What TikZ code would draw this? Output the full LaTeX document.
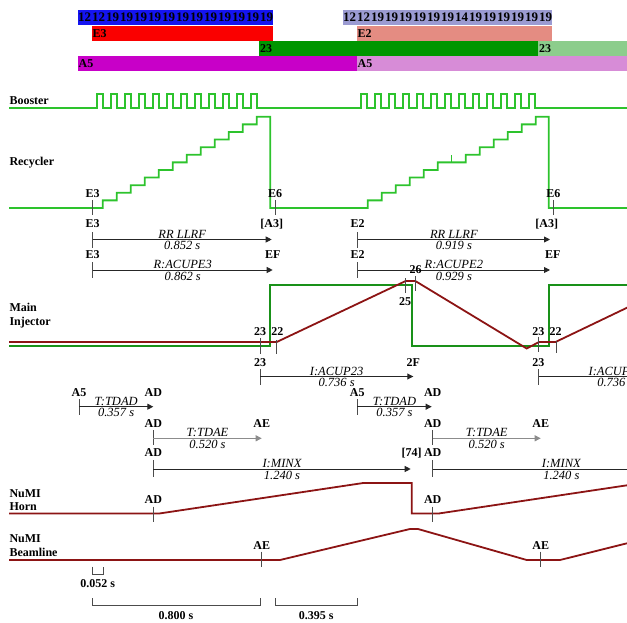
\documentclass[tikz,border=0pt]{standalone}
\usepackage{fontspec}
\setmainfont{Liberation Serif}
\usetikzlibrary{arrows.meta}
\definecolor{cBlue}{RGB}{20,20,240}
\definecolor{cBlueH}{RGB}{155,155,210}
\definecolor{cRed}{RGB}{250,0,0}
\definecolor{cRedH}{RGB}{228,140,130}
\definecolor{cGreen}{RGB}{0,150,0}
\definecolor{cGreenH}{RGB}{140,205,140}
\definecolor{cMag}{RGB}{200,0,200}
\definecolor{cMagH}{RGB}{215,140,215}
\definecolor{lgreen}{RGB}{45,195,45}
\definecolor{mgreen}{RGB}{25,145,25}
\definecolor{dred}{RGB}{140,20,20}
\newcommand\dfsz{\fontsize{12}{14}\selectfont}
\newcommand\ifsz{\fontsize{12.5}{14}\selectfont}
\newcommand\nfsz{\fontsize{13}{15}\selectfont}
\begin{document}
\begin{tikzpicture}[x=1pt,y=-1pt,font=\dfsz,
  bl/.style={font=\dfsz\bfseries, inner sep=0pt, anchor=base},
  blw/.style={font=\dfsz\bfseries, inner sep=0pt, anchor=base west},
  nbw/.style={font=\nfsz\bfseries, inner sep=0pt, anchor=base west},
  il/.style={font=\ifsz\itshape, inner sep=0pt},
  tk/.style={draw=black!70, line width=0.9pt},
  arr/.style={draw=black!85, line width=0.9pt, -{Triangle[length=6pt,width=6pt]}},
  garr/.style={draw=black!45, line width=1.2pt, -{Triangle[length=6pt,width=6pt]}},
  wv/.style={line width=1.8pt, line join=miter},
  brk/.style={draw=black!70, line width=0.9pt}]
\useasboundingbox (0,0) rectangle (627,623);
\clip (0,0) rectangle (627,623);

% ---------- top bars ----------
\fill[cBlue] (78,10) rectangle (273,25);
\fill[cBlueH] (343,10) rectangle (552,25);
\fill[cRed] (92,26) rectangle (273,41);
\fill[cRedH] (357,26) rectangle (552,41);
\fill[cGreen] (259,41) rectangle (538,56);
\fill[cGreenH] (538,41) rectangle (627,56);
\fill[cMag] (78,56) rectangle (357,71);
\fill[cMagH] (357,56) rectangle (627,71);
\node[nbw] (bt1) at (78,22) {\hbox to 195pt{12\hfill 12\hfill 19\hfill 19\hfill 19\hfill 19\hfill 19\hfill 19\hfill 19\hfill 19\hfill 19\hfill 19\hfill 19\hfill 19}};
\node[nbw] (bt2) at (343,22) {\hbox to 209pt{12\hfill 12\hfill 19\hfill 19\hfill 19\hfill 19\hfill 19\hfill 19\hfill 14\hfill 19\hfill 19\hfill 19\hfill 19\hfill 19\hfill 19}};
\node[blw] (bt3) at (92.5,37.5) {E3};
\node[blw] (bt4) at (357.5,37.5) {E2};
\node[blw] (bt5) at (260,52.5) {23};
\node[blw] (bt6) at (539,52.5) {23};
\node[blw] (bt7) at (78.5,67.5) {A5};
\node[blw] (bt8) at (357.5,67.5) {A5};

% ---------- row labels ----------
\node[blw] (lbooster) at (9.3,105) {Booster};
\node[blw] (lrecycler) at (9.3,166) {Recycler};
\node[blw] (lmain) at (9.3,311.5) {Main};
\node[blw] (linj) at (9.3,325) {Injector};
\node[blw] (lnumi1) at (9.3,497) {NuMI};
\node[blw] (lhorn) at (9.3,510.5) {Horn};
\node[blw] (lnumi2) at (9.3,542) {NuMI};
\node[blw] (lbeam) at (9.3,556.5) {Beamline};

% ---------- Booster ----------
\draw[wv, lgreen] (9,108)
  foreach \k in {0,...,11} { -- ({97+14*\k},108) -- ({97+14*\k},94) -- ({103+14*\k},94) -- ({103+14*\k},108) }
  foreach \k in {0,...,12} { -- ({361+14*\k},108) -- ({361+14*\k},94) -- ({367+14*\k},94) -- ({367+14*\k},108) }
  -- (627,108);

% ---------- Recycler ----------
\draw[wv, lgreen] (9,208)
  foreach \k in {0,...,11} { -- ({102.7+14*\k},{208-7.6*\k}) -- ({102.7+14*\k},{208-7.6*(\k+1)}) }
  -- (270.3,116.8) -- (270.3,208)
  foreach \k/\l in {0/1,1/2,2/3,3/4,4/5,5/6,7/7,8/8,9/9,10/10,11/11,12/12} { -- ({367.7+14*\k},{208-7.6*(\l-1)}) -- ({367.7+14*\k},{208-7.6*\l}) }
  -- (548.7,116.8) -- (548.7,208) -- (627,208);
\draw[line width=1.3pt, lgreen] (451.7,162.4) -- (451.7,154.7);

\draw[tk] (92.7,200) -- (92.7,215);
\draw[tk] (275,200) -- (275,215);
\draw[tk] (553.3,200) -- (553.3,215);
\node[bl] (re3) at (92.7,197.5) {E3};
\node[bl] (re6a) at (275,197.5) {E6};
\node[bl] (re6b) at (553.3,197.5) {E6};

% ---------- Recycler timers ----------
\coordinate (r1a) at (92.7,239.5); \coordinate (r1b) at (271.7,239.5);
\coordinate (r2a) at (92.7,270); \coordinate (r2b) at (272.7,270);
\coordinate (r3a) at (357.7,239.5); \coordinate (r3b) at (550,239.5);
\coordinate (r4a) at (357.7,270); \coordinate (r4b) at (550,270);
\draw[tk] (92.7,232) -- (92.7,248);
\draw[tk] (92.7,262) -- (92.7,277.5);
\draw[tk] (357.7,232) -- (357.7,248);
\draw[tk] (357.7,262) -- (357.7,277.5);
\draw[arr] (r1a) -- (r1b) node[il,midway,above=0.8pt] (r1t) {RR LLRF} node[il,midway,below=1.5pt] (r1d) {0.852 s};
\draw[arr] (r2a) -- (r2b) node[il,midway,above=0.8pt] (r2t) {R:ACUPE3} node[il,midway,below=1.5pt] (r2d) {0.862 s};
\draw[arr] (r3a) -- (r3b) node[il,midway,above=0.8pt] (r3t) {RR LLRF} node[il,midway,below=1.5pt] (r3d) {0.919 s};
\draw[arr] (r4a) -- (r4b) node[il,midway,above=0.8pt] (r4t) {R:ACUPE2} node[il,midway,below=1.5pt] (r4d) {0.929 s};
\node[bl] (te3a) at (92.7,227.5) {E3};
\node[bl] (ta3a) at (271.7,227.5) {[A3]};
\node[bl] (te3b) at (92.7,258.5) {E3};
\node[bl] (tefa) at (272.7,258.5) {EF};
\node[bl] (te2a) at (357.7,227.5) {E2};
\node[bl] (ta3b) at (546.7,227.5) {[A3]};
\node[bl] (te2b) at (357.7,258.5) {E2};
\node[bl] (tefb) at (552.7,258.5) {EF};

% ---------- Main Injector ----------
\draw[wv, mgreen] (9,346) -- (270.3,346) -- (270.3,285) -- (411.7,285) -- (411.7,346) -- (549,346) -- (549,285) -- (627,285);
\draw[wv, dred] (9,342) -- (276.7,342) -- (405.7,281) -- (415.3,281) -- (526.7,348.5) -- (539,342) -- (555.5,342) -- (640,301.5);

\draw[tk] (260,338) -- (260,353.5);
\draw[tk] (276.7,340) -- (276.7,353.5);
\draw[tk] (405.7,278) -- (405.7,293);
\draw[tk] (415.3,276) -- (415.3,291);
\draw[tk] (538.7,336.5) -- (538.7,352);
\draw[tk] (556,341) -- (556,353);
\node[bl] (m23a) at (260,335) {23};
\node[bl] (m22a) at (277.3,335) {22};
\node[bl] (m23b) at (260,366) {23};
\node[bl] (m25) at (405,305) {25};
\node[bl] (m26) at (415.7,273.5) {26};
\node[bl] (m2f) at (413.3,366) {2F};
\node[bl] (m23c) at (538.3,335) {23};
\node[bl] (m22b) at (555.5,335) {22};
\node[bl] (m23d) at (538.3,366) {23};

\coordinate (i1a) at (260,376.5); \coordinate (i1b) at (413.3,376.5);
\coordinate (i2a) at (538.7,376.5); \coordinate (i2b) at (692,376.5);
\draw[tk] (260,369) -- (260,385);
\draw[tk] (538.7,369) -- (538.7,385);
\draw[arr] (i1a) -- (i1b) node[il,midway,above=0.8pt] (i1t) {I:ACUP23} node[il,midway,below=1.5pt] (i1d) {0.736 s};
\draw[arr] (i2a) -- (i2b) node[il,midway,above=0.8pt] (i2t) {I:ACUP23} node[il,midway,below=1.5pt] (i2d) {0.736 s};

% ---------- NuMI timers ----------
\coordinate (t1a) at (79,406.7); \coordinate (t1b) at (153.3,406.7);
\coordinate (t2a) at (153.3,438.3); \coordinate (t2b) at (261.7,438.3);
\coordinate (t3a) at (153.3,469); \coordinate (t3b) at (410.7,469);
\coordinate (t4a) at (357.3,406.7); \coordinate (t4b) at (431.7,406.7);
\coordinate (t5a) at (432.7,438.3); \coordinate (t5b) at (540.7,438.3);
\coordinate (t6a) at (432.7,469); \coordinate (t6b) at (690,469);
\draw[tk] (79,399) -- (79,415);
\draw[tk] (153.3,430) -- (153.3,445);
\draw[tk] (153.3,460) -- (153.3,476.7);
\draw[tk] (357.3,399) -- (357.3,415);
\draw[tk] (432.7,430) -- (432.7,445);
\draw[tk] (432.7,460) -- (432.7,476.7);
\draw[arr] (t1a) -- (t1b) node[il,midway,above=0.8pt] (t1t) {T:TDAD} node[il,midway,below=1.5pt] (t1d) {0.357 s};
\draw[garr] (t2a) -- (t2b) node[il,midway,above=0.8pt] (t2t) {T:TDAE} node[il,midway,below=1.5pt] (t2d) {0.520 s};
\draw[arr] (t3a) -- (t3b) node[il,midway,above=0.8pt] (t3t) {I:MINX} node[il,midway,below=1.5pt] (t3d) {1.240 s};
\draw[arr] (t4a) -- (t4b) node[il,midway,above=0.8pt] (t4t) {T:TDAD} node[il,midway,below=1.5pt] (t4d) {0.357 s};
\draw[garr] (t5a) -- (t5b) node[il,midway,above=0.8pt] (t5t) {T:TDAE} node[il,midway,below=1.5pt] (t5d) {0.520 s};
\draw[arr] (t6a) -- (t6b) node[il,midway,above=0.8pt] (t6t) {I:MINX} node[il,midway,below=1.5pt] (t6d) {1.240 s};
\node[bl] (na5a) at (79,396.7) {A5};
\node[bl] (nada) at (153.3,396.7) {AD};
\node[bl] (nadb) at (153.3,427.3) {AD};
\node[bl] (naea) at (261.7,427.3) {AE};
\node[bl] (nadc) at (153.3,456.7) {AD};
\node[bl] (n74) at (411.7,456.7) {[74]};
\node[bl] (na5b) at (357.3,396.7) {A5};
\node[bl] (nadd) at (432.7,396.7) {AD};
\node[bl] (nade) at (432.7,427.3) {AD};
\node[bl] (naeb) at (540.7,427.3) {AE};
\node[bl] (nadf) at (432.7,456.7) {AD};

% ---------- NuMI Horn ----------
\draw[wv, dred] (9,513.5) -- (159.3,513.5) -- (363.3,483) -- (411.7,483) -- (411.7,513.5) -- (438.7,513.5) -- (627,485.3);
\draw[tk] (153.3,506.7) -- (153.3,521.7);
\draw[tk] (432.7,506.7) -- (432.7,521.7);
\node[bl] (had1) at (153.3,503.3) {AD};
\node[bl] (had2) at (432.7,503.3) {AD};

% ---------- NuMI Beamline ----------
\draw[wv, dred] (9,560) -- (280,560) -- (410,529) -- (418,529) -- (526.7,560) -- (560,560) -- (627,543.3);
\draw[tk] (261.7,551.7) -- (261.7,566.7);
\draw[tk] (540.7,551.7) -- (540.7,566.7);
\node[bl] (bae1) at (261.7,549.3) {AE};
\node[bl] (bae2) at (540.7,549.3) {AE};

% ---------- brackets ----------
\coordinate (q1a) at (92.3,566.7); \coordinate (q1b) at (103.3,566.7);
\coordinate (q2a) at (92.3,598.3); \coordinate (q2b) at (260,598.3);
\coordinate (q3a) at (275,598.3); \coordinate (q3b) at (357.3,598.3);
\draw[brk] (q1a) -- ++(0,7.6) -| (q1b);
\draw[brk] (q2a) -- ++(0,7.4) -| (q2b);
\draw[brk] (q3a) -- ++(0,7.4) -| (q3b);
\node[bl] (s052) at (97.8,587) {0.052 s};
\node[bl] (s800) at (176,619) {0.800 s};
\node[bl] (s395) at (316.2,619) {0.395 s};
\end{tikzpicture}
\end{document}
